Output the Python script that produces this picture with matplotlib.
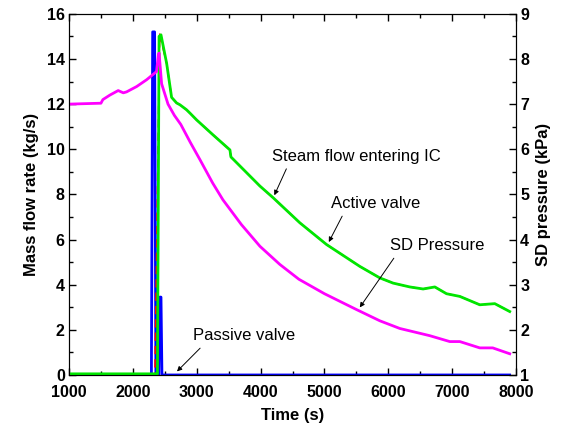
import matplotlib
matplotlib.use('Agg')
import matplotlib.pyplot as plt
from matplotlib.ticker import MultipleLocator

plt.rcParams['font.family'] = ['Liberation Sans', 'DejaVu Sans']

# passive valve (blue), kg/s
t_passive = [1000, 2290, 2310, 2340, 2360, 2405, 2420, 2440, 2455, 7900]
m_passive = [0, 0, 15.2, 15.2, 0, 0, 3.45, 3.45, 0, 0]

# active valve (green), kg/s
t_active = [1000, 2385, 2410, 2440, 2529, 2606, 2685, 2737, 2840, 2894, 2998, 3250,
            3520, 3535, 3989, 4197, 4615, 5032, 5554, 5867, 6075, 6336, 6545, 6728,
            6911, 7120, 7432, 7667, 7901]
m_active = [0.05, 0.05, 15.0, 15.07, 13.8, 12.3, 12.05, 11.97, 11.75, 11.6, 11.3, 10.65,
            9.97, 9.66, 8.37, 7.85, 6.74, 5.78, 4.81, 4.3, 4.07, 3.9, 3.81, 3.9,
            3.6, 3.48, 3.11, 3.16, 2.81]

# steam flow entering IC (red dashed), kg/s
t_steam = [1000, 2345, 2420] + t_active[4:]
m_steam = [0, 0, 15.1] + m_active[4:]

# SD pressure (magenta), kPa
t_sd = [1000, 1500, 1530, 1640, 1770, 1850, 1900, 2060, 2215, 2370, 2400, 2410, 2450,
        2550, 2650, 2750, 2900, 3050, 3250, 3410, 3700, 3990, 4300, 4600, 5000, 5500,
        5867, 6180, 6650, 6962, 7120, 7432, 7635, 7901]
p_sd = [7.0, 7.02, 7.1, 7.2, 7.3, 7.25, 7.27, 7.39, 7.54, 7.72, 8.1, 8.13, 7.45,
        7.0, 6.75, 6.55, 6.15, 5.77, 5.25, 4.88, 4.33, 3.85, 3.45, 3.12, 2.8, 2.45,
        2.2, 2.03, 1.87, 1.74, 1.74, 1.6, 1.6, 1.47]

fig = plt.figure(figsize=(5.63, 4.32), dpi=100)
ax = fig.add_axes([0.1226, 0.132, 0.794, 0.836])

lw = 2.0
ax.plot(t_passive, m_passive, color='#0000ff', lw=lw, zorder=2)
ax.plot(t_steam, m_steam, color='#ff0000', lw=1.2, ls=(0, (5, 3)), zorder=3)
ax.plot(t_active, m_active, color='#00e600', lw=lw, zorder=4)

ax.set_xlim(1000, 8000)
ax.set_ylim(0, 16)
ax.xaxis.set_major_locator(MultipleLocator(1000))
ax.xaxis.set_minor_locator(MultipleLocator(500))
ax.yaxis.set_major_locator(MultipleLocator(2))
ax.yaxis.set_minor_locator(MultipleLocator(1))
ax.tick_params(which='both', direction='in', top=True, right=False, width=1)
ax.tick_params(which='major', length=5, labelsize=11.5, pad=3)
ax.tick_params(axis='x', which='major', pad=7)
ax.tick_params(which='minor', length=3)
for lab in ax.get_xticklabels() + ax.get_yticklabels():
    lab.set_fontweight('bold')
ax.set_xlabel('Time (s)', fontsize=12, fontweight='bold', labelpad=6)
ax.set_ylabel('Mass flow rate (kg/s)', fontsize=12, fontweight='bold', labelpad=6)

ax2 = ax.twinx()
ax2.plot(t_sd, p_sd, color='#ff00ff', lw=lw)
ax2.set_ylim(1, 9)
ax2.yaxis.set_major_locator(MultipleLocator(1))
ax2.yaxis.set_minor_locator(MultipleLocator(0.5))
ax2.tick_params(which='both', direction='in', width=1)
ax2.tick_params(which='major', length=5, labelsize=11.5, pad=3)
ax2.tick_params(which='minor', length=3)
for lab in ax2.get_yticklabels():
    lab.set_fontweight('bold')
ax2.set_ylabel('SD pressure (kPa)', fontsize=12, fontweight='bold', labelpad=5)

arrow = dict(arrowstyle='-|>', color='black', lw=0.7, mutation_scale=7)
ax.annotate('Steam flow entering IC', xy=(4197, 7.85), xytext=(4177, 9.7),
            fontsize=12, va='center', ha='left', zorder=10,
            arrowprops=dict(arrow, relpos=(0.1, 0)))
ax.annotate('Active valve', xy=(5048, 5.78), xytext=(5110, 7.6),
            fontsize=12, va='center', ha='left', zorder=10,
            arrowprops=dict(arrow, relpos=(0.15, 0)))
ax.annotate('SD Pressure', xy=(5528, 2.89), xytext=(6023, 5.73),
            fontsize=12, va='center', ha='left', zorder=10,
            arrowprops=dict(arrow, relpos=(0.08, 0)))
ax.annotate('Passive valve', xy=(2660, 0.07), xytext=(2935, 1.73),
            fontsize=12, va='center', ha='left', zorder=10,
            arrowprops=dict(arrow, relpos=(0.12, 0)))

fig.savefig('out.png', dpi=100)
